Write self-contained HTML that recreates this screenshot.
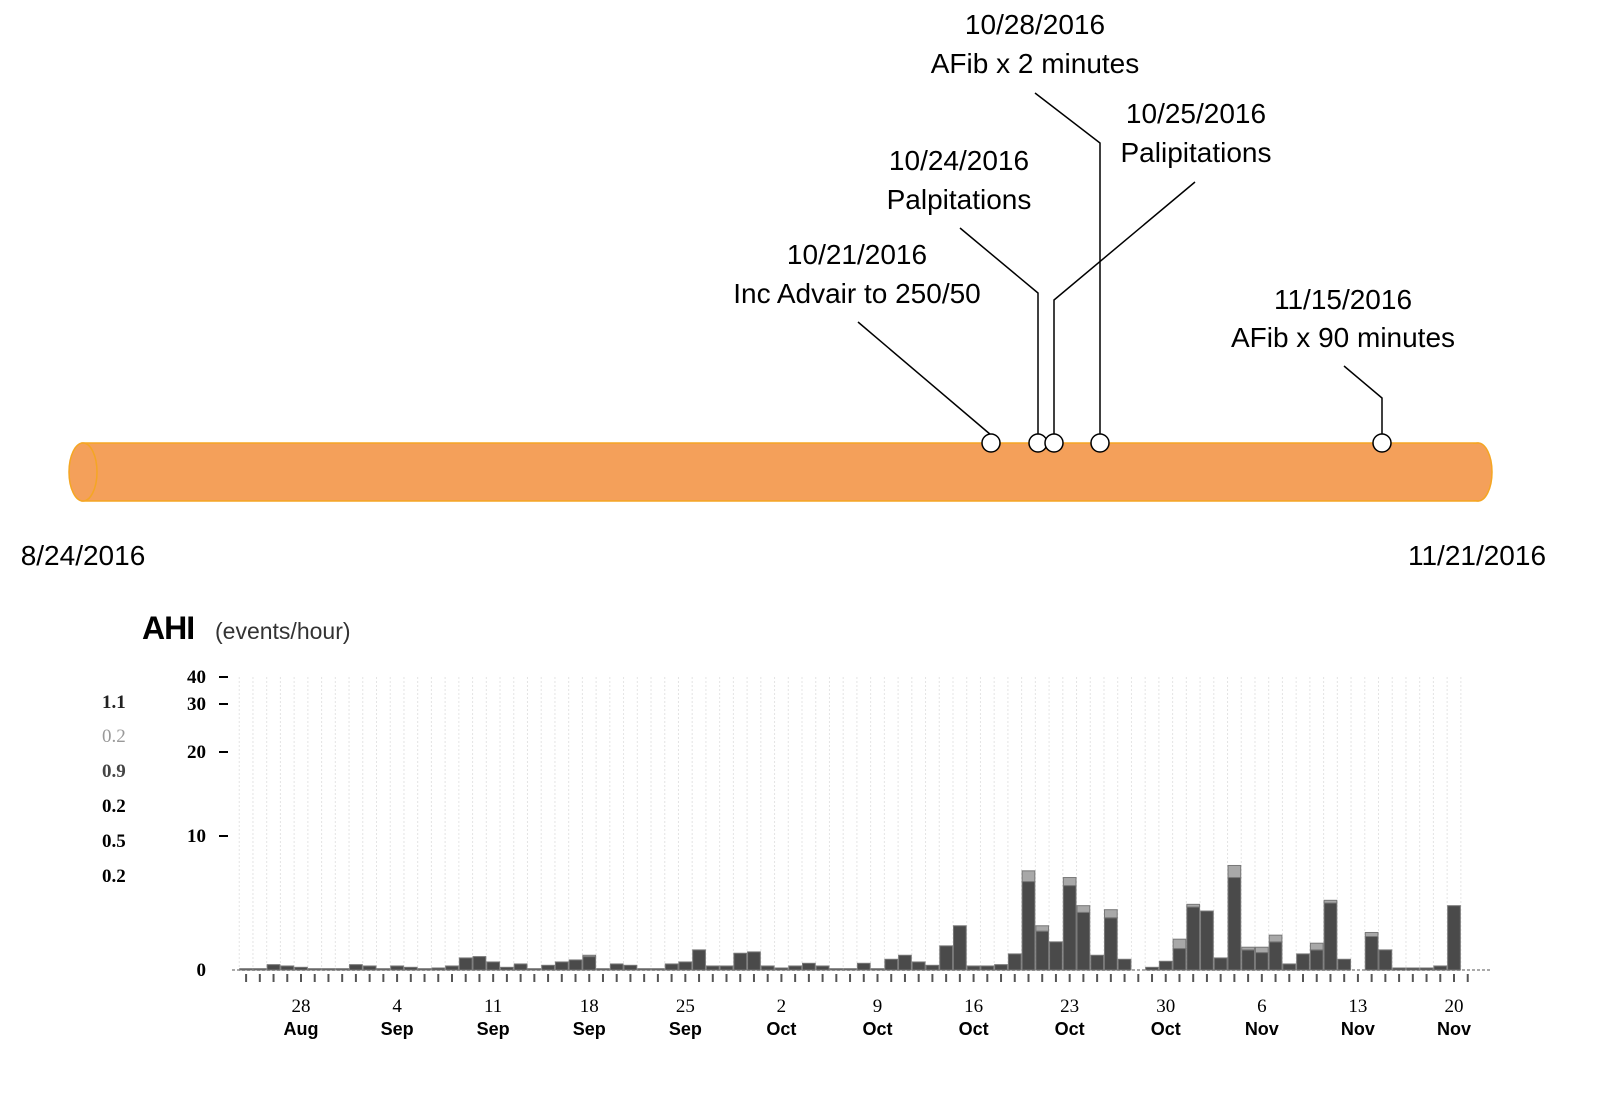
<!DOCTYPE html>
<html><head><meta charset="utf-8"><style>
html,body{margin:0;padding:0;background:#fff;}
body{width:1600px;height:1093px;overflow:hidden;font-family:"Liberation Sans",Arial,sans-serif;}
</style></head><body>
<svg id="svg" width="1600" height="1093" viewBox="0 0 1600 1093" xmlns="http://www.w3.org/2000/svg">
  <g>
    <rect x="82" y="443" width="1396" height="58" fill="#f4a05a" stroke="#f5a623" stroke-width="1.5"/>
    <ellipse cx="1478" cy="472" rx="14" ry="29" fill="#f4a05a" stroke="#f5a623" stroke-width="1.5"/>
    <rect x="1460" y="444" width="18" height="56" fill="#f4a05a"/>
    <ellipse cx="83" cy="472" rx="14" ry="29" fill="#f4a05a" stroke="#f5a623" stroke-width="1.5"/>
    <g fill="none" stroke="#000" stroke-width="1.5">
      <polyline points="858,322 991,435"/>
      <polyline points="960,228 1038,293 1038,435"/>
      <polyline points="1195,182 1054,300 1054,435"/>
      <polyline points="1035,93 1100,143 1100,435"/>
      <polyline points="1344,366 1382,398 1382,435"/>
    </g>
    <g fill="#fff" stroke="#000" stroke-width="1.5">
      <circle cx="991" cy="443" r="9"/>
      <circle cx="1038" cy="443" r="9"/>
      <circle cx="1054" cy="443" r="9"/>
      <circle cx="1100" cy="443" r="9"/>
      <circle cx="1382" cy="443" r="9"/>
    </g>
    <g font-size="28" text-anchor="middle" fill="#000">
      <text x="1035" y="34">10/28/2016</text>
      <text x="1035" y="73">AFib x 2 minutes</text>
      <text x="1196" y="123">10/25/2016</text>
      <text x="1196" y="162">Palipitations</text>
      <text x="959" y="170">10/24/2016</text>
      <text x="959" y="209">Palpitations</text>
      <text x="857" y="264">10/21/2016</text>
      <text x="857" y="303">Inc Advair to 250/50</text>
      <text x="1343" y="309">11/15/2016</text>
      <text x="1343" y="347">AFib x 90 minutes</text>
      <text x="83" y="565">8/24/2016</text>
      <text x="1477" y="565">11/21/2016</text>
    </g>
  </g>
  <g>
    <text x="142" y="639" font-size="32" font-weight="bold" letter-spacing="-1">AHI</text>
    <text x="215" y="639" font-size="23" fill="#333">(events/hour)</text>
  </g>
  <g font-family="'Liberation Serif',serif" font-weight="bold" font-size="19">
    <text x="102" y="708" fill="#222">1.1</text>
    <text x="102" y="742" fill="#999" font-weight="normal">0.2</text>
    <text x="102" y="777" fill="#444">0.9</text>
    <text x="102" y="812" fill="#000">0.2</text>
    <text x="102" y="847" fill="#000">0.5</text>
    <text x="102" y="882" fill="#000">0.2</text>
  </g>
  <g id="grid"></g>
  <g id="yaxis"></g>
  <g id="bars"></g>
  <g id="xaxis"></g>
</svg>
<script>
// Daily AHI starting 24 Aug 2016 (90 days)
const startLabel = "2016-08-24";
const darkValues = [
0.1,0.1,0.4,0.3,0.2,0.1,0.1,0.1,0.4,0.3,0.1,0.3,0.2,0.1,0.15,0.3,0.9,1.0,0.6,0.2,0.45,0.1,0.35,0.6,0.75,1.0,0.1,0.45,0.35,0.1,
0.1,0.45,0.6,1.5,0.3,0.3,1.25,1.35,0.3,0.15,0.3,0.5,0.3,0.1,0.1,0.5,0.1,0.8,1.1,0.6,0.35,1.8,3.3,0.3,0.3,0.4,1.2,6.6,2.9,2.1,
6.3,4.3,1.1,3.9,0.8,0,0.2,0.65,1.6,4.7,4.4,0.9,6.9,1.5,1.3,2.1,0.45,1.2,1.5,5.0,0.8,0,2.5,1.5,0.15,0.15,0.15,0.3,4.8,0];
const lightValues = [
0,0,0,0,0,0,0,0,0,0,0,0,0,0,0,0,0,0,0,0,0,0,0,0,0,0.1,0,0,0,0,
0,0,0,0,0,0,0,0,0,0,0,0,0,0,0,0,0,0,0,0,0,0,0,0,0,0,0,0.8,0.4,0,
0.6,0.5,0,0.6,0,0,0,0,0.7,0.2,0,0,0.9,0.2,0.4,0.5,0,0,0.5,0.2,0,0,0.3,0,0,0,0,0,0,0];
const yTickValues = [0,10,20,30,40];
const yTickLabels = ["0","10","20","30","40"];
const xTickDays = [4,11,18,25,32,39,46,53,60,67,74,81,88];
const xTickDayLabels = ["28","4","11","18","25","2","9","16","23","30","6","13","20"];
const xTickMonthLabels = ["Aug","Sep","Sep","Sep","Sep","Oct","Oct","Oct","Oct","Oct","Nov","Nov","Nov"];

const NS = "http://www.w3.org/2000/svg";
const plotLeft = 232, plotRight = 1490;
const dayWidth = (1454 - 301) / 84;
function xScale(d){ return 301 + (d - 4) * dayWidth; }
const yKnots = [0,10,20,30,40], yPix = [970,836,752,704,677];
function yScale(v){
  for (let i = 0; i < yKnots.length - 1; i++){
    if (v <= yKnots[i+1]) return yPix[i] + (v - yKnots[i]) / (yKnots[i+1] - yKnots[i]) * (yPix[i+1] - yPix[i]);
  }
  return yPix[yPix.length-1];
}
function mk(tag, attrs, parent){
  const e = document.createElementNS(NS, tag);
  for (const k in attrs) e.setAttribute(k, attrs[k]);
  parent.appendChild(e); return e;
}
const grid = document.getElementById('grid');
const bars = document.getElementById('bars');
const xaxis = document.getElementById('xaxis');
const yaxis = document.getElementById('yaxis');
for (let d = 0; d < darkValues.length; d++){
  const gx = xScale(d) - dayWidth/2;
  if (gx > plotLeft){
    const l = mk('line',{x1:gx,x2:gx,y1:677,y2:970,stroke:'#e4e4e4','stroke-width':1,'stroke-dasharray':'2,2'},grid);
    
    
  }
}
const base = mk('line',{x1:plotLeft,x2:plotRight,y1:970,y2:970,stroke:'#aaa','stroke-width':2,'stroke-dasharray':'3,2'},grid);


for (let i = 0; i < yTickValues.length; i++){
  const y = yScale(yTickValues[i]);
  const t = mk('text',{x:206,y:y+6,'text-anchor':'end','font-size':19,'font-weight':'bold','font-family':"'Liberation Serif',serif"},yaxis);
  t.textContent = yTickLabels[i];
  
  
  if (yTickValues[i] > 0){
    const tk = mk('line',{x1:219,x2:228,y1:y,y2:y,stroke:'#000','stroke-width':2},yaxis);
    
    
  }
}
for (let d = 0; d < darkValues.length; d++){
  const cx = xScale(d), w = dayWidth - 1;
  const v1 = darkValues[d], v2 = lightValues[d];
  if (v1 > 0){
    const r = mk('rect',{x:cx-w/2,y:yScale(v1),width:w,height:970-yScale(v1),fill:'#4a4a4a',stroke:'#777','stroke-width':1},bars);
    
    
  }
  if (v2 > 0){
    const r2 = mk('rect',{x:cx-w/2,y:yScale(v1+v2),width:w,height:yScale(v1)-yScale(v1+v2),fill:'#a8a8a8',stroke:'#777','stroke-width':1},bars);
    
    
  }
  const tk = mk('line',{x1:cx,x2:cx,y1:974,y2:982,stroke:'#555','stroke-width':2},xaxis);
  
  
}
for (let i = 0; i < xTickDays.length; i++){
  const x = xScale(xTickDays[i]);
  const t1 = mk('text',{x:x,y:1012,'text-anchor':'middle','font-size':19,'font-family':"'Liberation Serif',serif"},xaxis);
  t1.textContent = xTickDayLabels[i];
  
  
  const t2 = mk('text',{x:x,y:1035,'text-anchor':'middle','font-size':18,'font-weight':'bold','font-family':"'Liberation Sans',sans-serif"},xaxis);
  t2.textContent = xTickMonthLabels[i];
  
  
}
</script>
</body></html>
